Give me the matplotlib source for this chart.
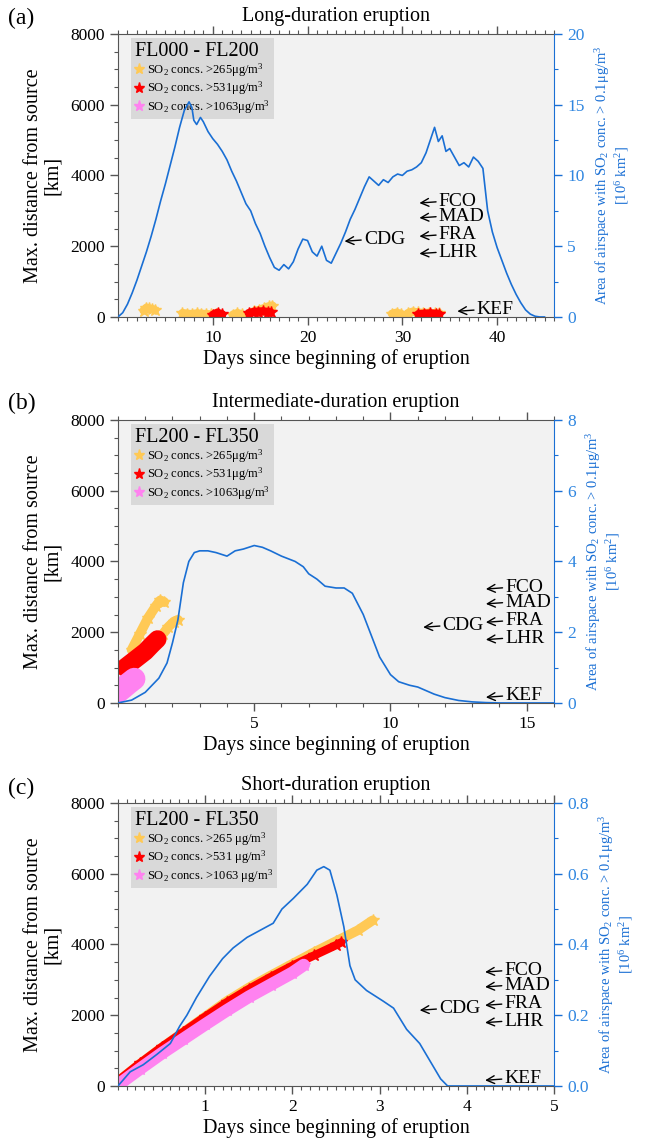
import numpy as np
import matplotlib
matplotlib.use('Agg')
import matplotlib.pyplot as plt
from matplotlib.lines import Line2D
from matplotlib.ticker import MultipleLocator

plt.rcParams['font.family'] = ['Liberation Serif', 'DejaVu Serif']
plt.rcParams['mathtext.fontset'] = 'custom'
plt.rcParams['mathtext.rm'] = 'Liberation Serif'
plt.rcParams['mathtext.it'] = 'Liberation Serif:italic'
plt.rcParams['mathtext.bf'] = 'Liberation Serif:bold'

nan = np.nan

# ---------------- Panel (a): long-duration eruption ----------------
area_a_day = [0.0, 0.5, 1.0, 1.5, 2.0, 2.5, 3.0, 3.5, 4.0, 4.5, 5.0, 5.5, 6.0, 6.5, 7.0, 7.5, 7.8,
              8.0, 8.3, 8.7, 9.0, 9.5, 10.0, 10.5, 11.0, 11.5, 12.0, 12.5, 13.0, 13.5, 14.0, 14.5,
              15.0, 15.5, 16.0, 16.5, 17.0, 17.5, 18.0, 18.5, 19.0, 19.5, 20.0, 20.5, 21.0, 21.5,
              22.0, 22.5, 23.0, 23.5, 24.0, 24.5, 25.0, 25.5, 26.0, 26.5, 27.0, 27.5, 28.0, 28.5,
              29.0, 29.5, 30.0, 30.5, 31.0, 31.5, 32.0, 32.5, 33.0, 33.4, 33.8, 34.2, 34.6, 35.0,
              35.5, 36.0, 36.5, 37.0, 37.5, 38.0, 38.5, 39.0, 39.5, 40.0, 40.5, 41.0, 41.5, 42.0,
              42.5, 43.0, 43.5, 44.0, 44.5, 45.0]
area_a_val = [0.0, 0.3, 0.9, 1.7, 2.6, 3.6, 4.6, 5.7, 6.9, 8.2, 9.4, 10.7, 12.0, 13.4, 14.6, 15.2, 14.8,
              13.9, 13.6, 14.1, 13.8, 13.1, 12.6, 12.2, 11.7, 11.1, 10.3, 9.6, 8.8, 8.0, 7.5, 6.6,
              5.9, 5.0, 4.2, 3.5, 3.3, 3.7, 3.4, 3.9, 4.8, 5.5, 5.4, 4.6, 4.3, 5.0,
              4.0, 3.8, 4.5, 5.2, 6.0, 6.9, 7.6, 8.4, 9.2, 9.9, 9.6, 9.3, 9.7, 9.5,
              9.9, 10.1, 10.0, 10.3, 10.4, 10.6, 10.9, 11.6, 12.6, 13.4, 12.4, 12.8, 11.7, 11.9,
              11.3, 10.7, 10.9, 10.6, 11.3, 11.0, 10.5, 7.5, 6.0, 4.9, 4.0, 3.1, 2.3, 1.6,
              1.0, 0.5, 0.2, 0.05, 0.0, 0.0]
yellow_a_day = [2.7, 3.0, 3.3, 3.6, 3.9, nan, 6.8, 7.3, 7.8, 8.3, 8.8, 9.3, 9.8, 10.3, nan,
                12.1, 12.6, 13.1, nan, 14.3, 14.9, 15.4, 15.9, 16.3, nan, 28.9, 29.4, 29.9, nan,
                30.6, 31.1, 31.6, 32.2, 32.8, 33.4, 33.9]
yellow_a_dist = [180, 260, 240, 220, 190, nan, 110, 90, 80, 100, 90, 80, 70, 90, nan,
                 60, 110, 70, nan, 160, 200, 250, 300, 320, nan, 90, 120, 80, nan,
                 110, 150, 130, 110, 120, 100, 110]
red_a_day = [10.0, 10.5, 11.0, nan, 13.8, 14.3, 14.8, 15.3, 15.8, 16.1, nan, 31.7, 32.3, 32.9, 33.5, 33.9]
red_a_dist = [60, 120, 70, nan, 110, 140, 150, 160, 140, 130, nan, 80, 90, 100, 90, 70]
pink_a_day = []
pink_a_dist = []

# ---------------- Panel (b): intermediate-duration eruption ----------------
area_b_day = [0.0, 0.5, 1.0, 1.5, 1.8, 2.0, 2.2, 2.4, 2.6, 2.8, 3.0, 3.3, 3.6, 4.0, 4.3, 4.6, 5.0,
              5.3, 5.6, 6.0, 6.5, 6.8, 7.0, 7.3, 7.6, 8.0, 8.3, 8.6, 9.0, 9.3, 9.6, 10.0, 10.3,
              10.7, 11.0, 11.3, 11.6, 12.0, 12.5, 13.0, 13.5, 14.0, 15.0, 16.0]
area_b_val = [0.0, 0.08, 0.3, 0.7, 1.13, 1.7, 2.35, 3.4, 4.0, 4.25, 4.3, 4.3, 4.25, 4.15, 4.3, 4.35, 4.45,
              4.4, 4.3, 4.15, 4.0, 3.85, 3.65, 3.5, 3.3, 3.25, 3.25, 3.1, 2.5, 1.9, 1.3, 0.8, 0.6,
              0.5, 0.45, 0.35, 0.25, 0.15, 0.07, 0.03, 0.01, 0.0, 0.0, 0.0]
yellow_b_day = [0.5, 0.8, 1.1, 1.4, 1.55, 1.7, nan, 1.45, 1.65, 1.85, 2.05, 2.2]
yellow_b_dist = [1500, 1950, 2400, 2750, 2900, 2850, nan, 1750, 1950, 2150, 2300, 2350]
red_b_day = [0.25, 0.5, 0.75, 1.0, 1.25, 1.45]
red_b_dist = [1000, 1150, 1300, 1450, 1650, 1800]
pink_b_day = [0.04, 0.2, 0.4, 0.6]
pink_b_dist = [330, 430, 560, 680]

# ---------------- Panel (c): short-duration eruption ----------------
area_c_day = [0.0, 0.14, 0.29, 0.45, 0.6, 0.71, 0.79, 0.9, 1.05, 1.2, 1.32, 1.48, 1.63, 1.78, 1.88,
              2.01, 2.17, 2.28, 2.36, 2.43, 2.51, 2.59, 2.66, 2.72, 2.85, 3.04, 3.16, 3.31, 3.46,
              3.58, 3.7, 3.78, 4.0, 4.5, 5.0]
area_c_val = [0.0, 0.04, 0.06, 0.09, 0.12, 0.17, 0.2, 0.25, 0.31, 0.36, 0.39, 0.42, 0.44, 0.46, 0.5,
              0.53, 0.57, 0.61, 0.62, 0.61, 0.54, 0.45, 0.34, 0.30, 0.27, 0.24, 0.22, 0.16, 0.12,
              0.07, 0.02, 0.0, 0.0, 0.0, 0.0]
yellow_c_day = [0.0, 0.25, 0.5, 0.75, 1.0, 1.25, 1.5, 1.75, 2.0, 2.25, 2.5, 2.75, 2.92]
yellow_c_dist = [130, 620, 1080, 1520, 1960, 2400, 2780, 3120, 3450, 3780, 4090, 4400, 4680]
red_c_day = [0.0, 0.25, 0.5, 0.75, 1.0, 1.25, 1.5, 1.75, 2.0, 2.25, 2.5, 2.56]
red_c_dist = [150, 640, 1100, 1530, 1960, 2370, 2740, 3080, 3400, 3690, 3980, 4060]
pink_c_day = [0.0, 0.25, 0.5, 0.75, 1.0, 1.25, 1.5, 1.75, 2.0, 2.13]
pink_c_dist = [30, 480, 920, 1330, 1740, 2140, 2520, 2860, 3200, 3420]

# ---------------- Airports (distance from source, km) ----------------
airport_names = ['FCO', 'MAD', 'FRA', 'LHR', 'CDG', 'KEF']
airport_dist = [3220, 2800, 2280, 1790, 2140, 160]

panel_letters = ['(a)', '(b)', '(c)']
panel_titles = ['Long-duration eruption', 'Intermediate-duration eruption', 'Short-duration eruption']
legend_titles = ['FL000 - FL200', 'FL200 - FL350', 'FL200 - FL350']
legend_labels = [
    ['SO$_2$ concs. >265μg/m$^3$', 'SO$_2$ concs. >531μg/m$^3$', 'SO$_2$ concs. >1063μg/m$^3$'],
    ['SO$_2$ concs. >265μg/m$^3$', 'SO$_2$ concs. >531μg/m$^3$', 'SO$_2$ concs. >1063μg/m$^3$'],
    ['SO$_2$ concs. >265 μg/m$^3$', 'SO$_2$ concs. >531 μg/m$^3$', 'SO$_2$ concs. >1063 μg/m$^3$'],
]

# layout / style (not data)
BLUE = '#1a6fd4'
BLUE_TXT = '#2f86e0'
YEL = '#ffc955'
RED = '#ff0000'
PINK = '#ff82f0'
SPINE = '#555555'

panels = [
    dict(bottom=0.7227, xmax=46, xmajor=[10, 20, 30, 40], xminor=1, ymax2=20, y2major=5, y2minor=2.5,
         y2fmt='%d', area=(area_a_day, area_a_val),
         series=[(yellow_a_day, yellow_a_dist, YEL), (red_a_day, red_a_dist, RED), (pink_a_day, pink_a_dist, PINK)],
         lw=[6, 6, 6], grp_x=31.8, cdg_x=23.9, kef_x=35.8),
    dict(bottom=0.3850, xmax=16, xmajor=[5, 10, 15], xminor=1, ymax2=8, y2major=2, y2minor=1,
         y2fmt='%d', area=(area_b_day, area_b_val),
         series=[(yellow_b_day, yellow_b_dist, YEL), (red_b_day, red_b_dist, RED), (pink_b_day, pink_b_dist, PINK)],
         lw=[7, 13, 16], grp_x=13.5, cdg_x=11.2, kef_x=13.5),
    dict(bottom=0.0499, xmax=5, xmajor=[1, 2, 3, 4, 5], xminor=0.1, ymax2=0.8, y2major=0.2, y2minor=0.1,
         y2fmt='%.1f', area=(area_c_day, area_c_val),
         series=[(yellow_c_day, yellow_c_dist, YEL), (red_c_day, red_c_dist, RED), (pink_c_day, pink_c_dist, PINK)],
         lw=[7, 6, 9], grp_x=4.21, cdg_x=3.46, kef_x=4.21),
]
letter_y = [0.984, 0.647, 0.310]

fig = plt.figure(figsize=(6.5, 11.43), dpi=100)

for i, p in enumerate(panels):
    ax = fig.add_axes([0.1815, p['bottom'], 0.6708, 0.2476])
    ax.set_facecolor('#f2f2f2')
    ax.set_xlim(0, p['xmax'])
    ax.set_ylim(0, 8000)
    ax.set_xticks(p['xmajor'])
    ax.xaxis.set_minor_locator(MultipleLocator(p['xminor']))
    ax.yaxis.set_major_locator(MultipleLocator(2000))
    ax.yaxis.set_minor_locator(MultipleLocator(500))
    ax.tick_params(which='both', direction='out', top=True, right=False, colors=SPINE,
                   labelcolor='black', labelsize=12.5)
    ax.tick_params(which='major', length=6, width=1)
    ax.tick_params(which='minor', length=3, width=0.8)
    for s in ['left', 'bottom', 'top']:
        ax.spines[s].set_color(SPINE)
    ax.spines['right'].set_visible(False)

    # SO2 concentration markers
    for (dx, dy, col), lw in zip(p['series'], p['lw']):
        if len(dx):
            ax.plot(dx, dy, color=col, lw=lw, solid_capstyle='round', solid_joinstyle='round',
                    marker='*', ms=9, mec=col, mfc=col, zorder=2)

    ax.set_title(panel_titles[i], fontsize=14.5, pad=9)
    ax.set_xlabel('Days since beginning of eruption', fontsize=14.5, labelpad=2)
    ax.set_ylabel('Max. distance from source\n[km]', fontsize=14.5, linespacing=1.0, labelpad=6)

    handles = [Line2D([], [], ls='none', marker='*', ms=8, color=c) for c in (YEL, RED, PINK)]
    leg = ax.legend(handles, legend_labels[i], title=legend_titles[i], loc='upper left',
                    bbox_to_anchor=(0.03, 0.985), borderaxespad=0, fontsize=9,
                    title_fontsize=14.5, frameon=True, facecolor='#d9d9d9', edgecolor='none',
                    framealpha=1, fancybox=False, handlelength=0.7, handletextpad=0.3,
                    labelspacing=0.05, borderpad=0.3, alignment='left')

    # airport annotations
    ap = dict(arrowstyle='->', lw=1.0, color='black', shrinkA=0, shrinkB=0, relpos=(0, 0.5))
    for name, d in zip(airport_names, airport_dist):
        if name == 'CDG':
            x = p['cdg_x']
        elif name == 'KEF':
            x = p['kef_x']
        else:
            x = p['grp_x']
        ax.annotate(name, xy=(x, d), xytext=(14, 1), textcoords='offset points',
                    ha='left', va='center', fontsize=14, arrowprops=ap, zorder=3)

    # airspace area on right axis
    ax2 = ax.twinx()
    ax2.plot(p['area'][0], p['area'][1], color=BLUE, lw=1.2, zorder=4)
    ax2.set_ylim(0, p['ymax2'])
    ax2.yaxis.set_major_locator(MultipleLocator(p['y2major']))
    ax2.yaxis.set_minor_locator(MultipleLocator(p['y2minor']))
    ax2.yaxis.set_major_formatter(matplotlib.ticker.FormatStrFormatter(p['y2fmt']))
    ax2.tick_params(which='both', direction='out', colors=BLUE, labelcolor=BLUE_TXT, labelsize=12.5)
    ax2.tick_params(which='major', length=6, width=1)
    ax2.tick_params(which='minor', length=3, width=0.8)
    for s in ['left', 'bottom', 'top']:
        ax2.spines[s].set_visible(False)
    ax2.spines['right'].set_color(BLUE)
    ax2.set_ylabel('Area of airspace with SO$_2$ conc. > 0.1μg/m$^3$\n[10$^6$ km$^2$]',
                   color=BLUE, fontsize=10.5, linespacing=1.1, labelpad=6)

    fig.text(0.012, letter_y[i], panel_letters[i], fontsize=17, va='center', ha='left')

fig.savefig('out.png', dpi=100)
